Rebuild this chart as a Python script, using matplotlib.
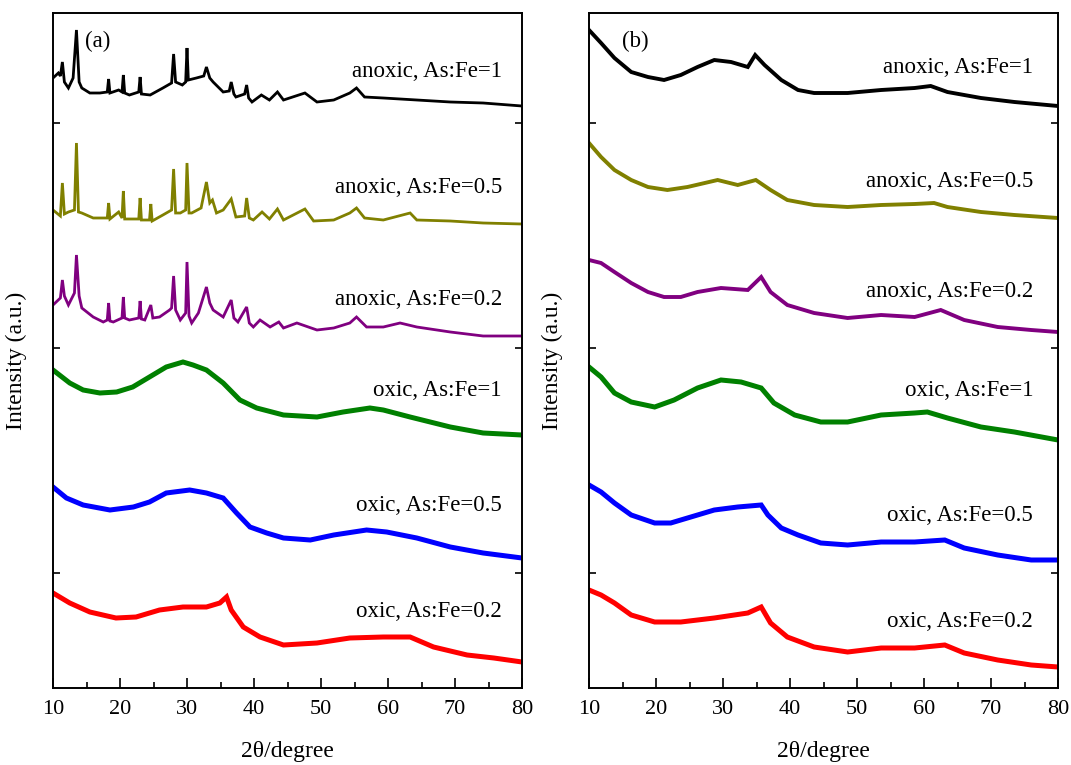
import matplotlib
matplotlib.use('Agg')
import matplotlib.pyplot as plt
import numpy as np

plt.rcParams['font.family'] = ['Liberation Serif', 'DejaVu Serif']

# ---- panel (a) ----
a_anox1_x = [10.0, 10.8, 11.1, 11.4, 11.7, 12.3, 13.0, 13.5, 13.9, 14.3, 15.5, 17.0, 18.1, 18.3, 18.5,
             19.8, 20.3, 20.5, 20.7, 21.4, 22.8, 23.0, 23.2, 24.5, 26.4, 27.7, 28.0, 28.3, 29.3, 29.8,
             30.0, 30.2, 31.4, 32.5, 32.9, 33.4, 33.9, 35.4, 36.3, 36.6, 37.0, 37.3, 38.6, 38.9, 39.2,
             39.7, 41.1, 42.3, 43.5, 44.4, 47.6, 49.4, 51.9, 54.3, 55.3, 56.5, 59.3, 64.3, 69.3, 74.2, 80.0]
a_anox1_y = [610, 615, 612, 626, 606, 600, 610, 658, 606, 600, 595, 595, 596, 609, 595,
             598, 596, 613, 595, 593, 596, 611, 594, 593, 600, 605, 634, 606, 603, 606,
             640, 608, 610, 612, 621, 610, 606, 596, 597, 606, 594, 591, 594, 603, 590,
             586, 593, 588, 596, 588, 595, 586, 588, 595, 600, 591, 590, 588, 586, 585, 582]

a_anox05_x = [10.0, 11.1, 11.4, 11.7, 12.3, 13.2, 13.5, 13.8, 14.3, 16.0, 18.1, 18.3, 18.5, 19.8, 20.3,
              20.5, 20.7, 22.8, 23.0, 23.2, 24.4, 24.6, 24.8, 26.4, 27.7, 28.0, 28.3, 29.0, 29.8, 30.0,
              30.3, 30.7, 32.1, 32.9, 33.4, 33.8, 34.4, 35.4, 36.6, 37.3, 38.6, 38.9, 39.3, 39.9, 41.2,
              42.3, 43.5, 44.4, 47.6, 48.9, 51.9, 54.3, 55.3, 56.5, 59.3, 63.3, 64.3, 69.3, 74.2, 80.0]
a_anox05_y = [478, 472, 505, 474, 476, 478, 545, 476, 475, 470, 470, 485, 469, 476, 470,
              497, 469, 469, 490, 468, 468, 484, 467, 473, 478, 519, 475, 475, 478, 525,
              475, 475, 480, 506, 485, 488, 475, 478, 489, 471, 472, 490, 470, 468, 476,
              469, 479, 468, 479, 467, 468, 475, 480, 470, 468, 475, 468, 467, 465, 464]

a_anox02_x = [10.0, 11.1, 11.4, 11.7, 12.3, 13.2, 13.5, 13.9, 14.3, 16.0, 17.5, 18.1, 18.3, 18.5, 19.0,
              20.3, 20.5, 20.7, 21.4, 22.8, 23.0, 23.2, 23.7, 24.6, 24.9, 25.9, 27.4, 27.7, 28.0, 28.3,
              29.0, 29.8, 30.0, 30.3, 30.7, 31.7, 32.9, 33.4, 33.9, 35.4, 36.6, 37.0, 37.6, 38.9, 39.3,
              39.9, 40.9, 42.4, 43.7, 44.4, 46.4, 49.4, 51.9, 54.3, 55.3, 56.8, 59.3, 61.8, 64.3, 69.3,
              74.2, 80.0]
a_anox02_y = [383, 390, 408, 392, 383, 395, 433, 392, 380, 371, 366, 368, 385, 367, 366,
              370, 391, 370, 368, 370, 387, 369, 368, 383, 370, 371, 378, 380, 412, 378,
              368, 375, 426, 372, 365, 375, 401, 385, 378, 371, 388, 370, 366, 381, 365,
              361, 368, 361, 366, 360, 365, 358, 360, 365, 371, 361, 361, 365, 361, 356,
              352, 352]

a_ox1_x = [10.0, 12.5, 14.5, 17.0, 19.5, 21.9, 24.4, 26.9, 29.4, 30.9, 32.9, 35.4, 37.9, 40.4, 44.4,
           49.4, 53.3, 57.3, 59.3, 63.3, 69.3, 74.2, 80.0]
a_ox1_y = [318, 305, 298, 295, 296, 301, 311, 321, 326, 323, 318, 305, 288, 280, 273,
           271, 276, 280, 278, 271, 261, 255, 253]

a_ox05_x = [10.0, 12.0, 14.5, 18.5, 22.0, 24.4, 26.9, 30.4, 32.9, 35.4, 37.4, 39.4, 41.9, 44.4, 48.4,
            51.9, 56.8, 59.8, 64.3, 69.3, 74.2, 80.0]
a_ox05_y = [201, 190, 183, 178, 181, 186, 195, 198, 195, 190, 175, 161, 155, 150, 148,
            153, 158, 156, 150, 141, 135, 130]

a_ox02_x = [10.0, 12.5, 15.5, 19.4, 22.4, 25.9, 29.4, 32.9, 34.9, 35.9, 36.6, 38.4, 40.9, 44.4, 49.4,
            54.3, 59.3, 63.3, 66.8, 71.8, 75.8, 80.0]
a_ox02_y = [95, 85, 76, 70, 71, 78, 81, 81, 85, 91, 78, 61, 51, 43, 45,
            50, 51, 51, 41, 33, 30, 26]

# ---- panel (b) ----
b_anox1_x = [10.0, 11.8, 13.8, 16.3, 18.8, 21.2, 23.7, 26.2, 28.7, 31.2, 33.7, 34.8, 36.2, 38.7, 41.2,
             43.6, 48.6, 53.6, 58.6, 61.0, 63.5, 68.5, 73.5, 80.0]
b_anox1_y = [658, 645, 630, 616, 611, 608, 613, 621, 628, 626, 621, 633, 623, 608, 598,
             595, 595, 598, 600, 602, 596, 590, 586, 582]

b_anox05_x = [10.0, 11.8, 13.8, 16.3, 18.8, 21.7, 24.7, 29.2, 32.2, 34.9, 37.1, 39.6, 43.6, 48.6, 53.6,
              58.6, 61.5, 63.5, 68.5, 73.5, 80.0]
b_anox05_y = [545, 531, 518, 508, 501, 498, 501, 508, 503, 508, 498, 488, 483, 481, 483,
              484, 485, 481, 476, 473, 470]

b_anox02_x = [10.0, 11.8, 13.8, 16.3, 18.8, 21.2, 23.7, 26.2, 29.7, 33.7, 35.7, 37.1, 39.6, 43.6, 48.6,
              53.6, 58.6, 62.5, 66.0, 71.0, 76.0, 80.0]
b_anox02_y = [428, 425, 416, 405, 396, 391, 391, 396, 400, 398, 411, 396, 383, 375, 370,
              373, 371, 378, 368, 361, 358, 356]

b_ox1_x = [10.0, 11.8, 13.8, 16.3, 19.8, 22.7, 26.2, 29.7, 32.7, 35.7, 37.6, 40.7, 44.6, 48.6, 53.6,
           58.6, 60.5, 63.5, 68.5, 73.5, 80.0]
b_ox1_y = [321, 311, 295, 286, 281, 288, 300, 308, 306, 300, 285, 273, 266, 266, 273,
           275, 276, 270, 261, 256, 248]

b_ox05_x = [10.0, 11.8, 13.8, 16.3, 19.8, 22.2, 25.2, 28.7, 32.2, 35.7, 36.7, 38.7, 41.2, 44.6, 48.6,
            53.6, 58.6, 63.1, 66.0, 71.0, 76.0, 80.0]
b_ox05_y = [203, 196, 185, 173, 165, 165, 171, 178, 181, 183, 173, 160, 153, 145, 143,
            146, 146, 148, 140, 133, 128, 128]

b_ox02_x = [10.0, 11.8, 13.8, 16.3, 19.8, 23.7, 28.7, 33.7, 35.7, 37.1, 39.6, 43.6, 48.6, 53.6, 58.6,
            63.1, 66.0, 71.0, 76.0, 80.0]
b_ox02_y = [98, 93, 85, 73, 66, 66, 70, 75, 81, 65, 51, 41, 36, 40, 40,
            43, 35, 28, 23, 21]

labels = ['anoxic, As:Fe=1', 'anoxic, As:Fe=0.5', 'anoxic, As:Fe=0.2',
          'oxic, As:Fe=1', 'oxic, As:Fe=0.5', 'oxic, As:Fe=0.2']
colors = ['black', '#808000', '#800080', 'green', 'blue', 'red']

panel_a = [(a_anox1_x, a_anox1_y), (a_anox05_x, a_anox05_y), (a_anox02_x, a_anox02_y),
           (a_ox1_x, a_ox1_y), (a_ox05_x, a_ox05_y), (a_ox02_x, a_ox02_y)]
panel_b = [(b_anox1_x, b_anox1_y), (b_anox05_x, b_anox05_y), (b_anox02_x, b_anox02_y),
           (b_ox1_x, b_ox1_y), (b_ox05_x, b_ox05_y), (b_ox02_x, b_ox02_y)]

fig = plt.figure(figsize=(10.71, 7.65), dpi=100)
ax1 = fig.add_axes([53 / 1071, 77 / 765, 469 / 1071, 675 / 765])
ax2 = fig.add_axes([589 / 1071, 77 / 765, 469 / 1071, 675 / 765])

label_y_a = [0.913, 0.741, 0.575, 0.441, 0.271, 0.113]
label_y_b = [0.919, 0.750, 0.587, 0.441, 0.256, 0.098]

for ax, data, ly, lx, tag, tagx in [(ax1, panel_a, label_y_a, 0.957, '(a)', 0.068),
                                    (ax2, panel_b, label_y_b, 0.947, '(b)', 0.07)]:
    for (x, y), c, lab, yy in zip(data, colors, labels, ly):
        if lab.startswith('anoxic') and ax is ax1:
            lw = 2.0
        elif lab.startswith('anoxic'):
            lw = 2.8
        else:
            lw = 3.6
        ax.plot(x, y, color=c, lw=lw, solid_joinstyle='miter')
        ax.text(lx, yy, lab, transform=ax.transAxes, ha='right', va='center', fontsize=16.5)
    ax.text(tagx, 0.958, tag, transform=ax.transAxes, ha='left', va='center', fontsize=16.5)
    ax.set_xlim(10, 80)
    ax.set_ylim(0, 675)
    ax.set_xticks(np.arange(10, 81, 10))
    ax.set_xticks(np.arange(15, 80, 10), minor=True)
    ax.set_yticks([115, 340, 565])
    ax.set_yticklabels([])
    ax.tick_params(axis='x', which='major', direction='in', length=7, width=1.2,
                   labelsize=16, pad=9, top=False)
    ax.tick_params(axis='x', which='minor', direction='in', length=4, width=1.2, top=False)
    ax.tick_params(axis='y', direction='in', length=5, width=1.2, left=True, right=True)
    for s in ax.spines.values():
        s.set_linewidth(1.4)
    ax.set_xlabel('2θ/degree', fontsize=17)
    ax.xaxis.set_label_coords(0.5, -0.078)
    ax.set_ylabel('Intensity (a.u.)', fontsize=17)
    ax.yaxis.set_label_coords(-0.055, 0.485)

fig.savefig('out.png', dpi=100)
